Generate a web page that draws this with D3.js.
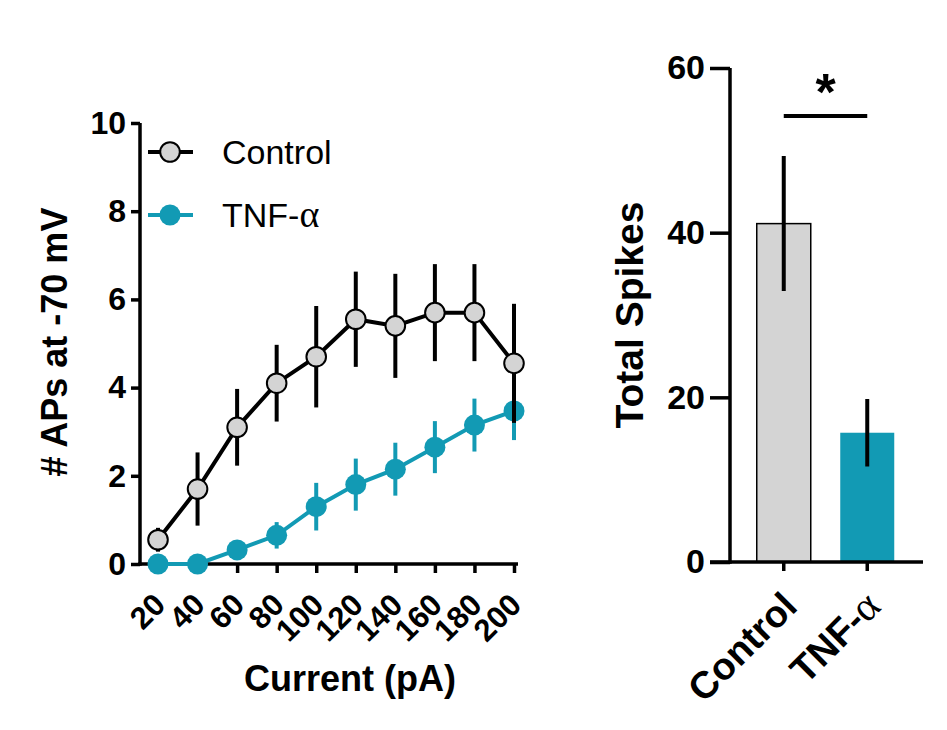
<!DOCTYPE html>
<html>
<head>
<meta charset="utf-8">
<script src="https://cdn.jsdelivr.net/npm/d3@7"></script>
<style>
  body { margin: 0; background: #fff; }
  text { font-family: "Liberation Sans", Arial, sans-serif; }
</style>
</head>
<body>
<svg width="947" height="730"></svg>
<script>
// data
var currents = [20, 40, 60, 80, 100, 120, 140, 160, 180, 200];
var controlMean = [0.55, 1.7, 3.1, 4.1, 4.7, 5.55, 5.4, 5.7, 5.7, 4.55];
var controlSem = [0.27, 0.83, 0.87, 0.87, 1.15, 1.08, 1.18, 1.1, 1.1, 1.35];
var tnfMean = [0, 0, 0.32, 0.65, 1.3, 1.8, 2.15, 2.65, 3.15, 3.47];
var tnfSem = [0, 0, 0.1, 0.3, 0.54, 0.59, 0.6, 0.59, 0.6, 0.66];
var yTicksLeft = [0, 2, 4, 6, 8, 10];

var groups = ["Control", "TNF-α"];
var totals = [41.1, 15.7];
var totalsSem = [8.2, 4.1];
var yTicksRight = [0, 20, 40, 60];

var grey = "#d4d4d4", teal = "#129ab4";

var svg = d3.select("svg");

// ---------- left: line chart ----------
var x = d3.scalePoint().domain(currents).range([158, 514]);
var y = d3.scaleLinear().domain([0, 10]).range([564, 123]);

var gl = svg.append("g");

// axes
var yAxis = gl.append("g")
  .attr("transform", "translate(140,0)")
  .call(d3.axisLeft(y).tickValues(yTicksLeft).tickSize(9).tickPadding(5));
var xAxis = gl.append("g")
  .attr("transform", "translate(0,564)")
  .call(d3.axisBottom(x).tickSize(9).tickPadding(4));

[yAxis, xAxis].forEach(function (a) {
  a.select(".domain").attr("stroke", "#000").attr("stroke-width", 3.5);
  a.selectAll(".tick line").attr("stroke", "#000").attr("stroke-width", 3.5);
});
// extend x domain line to meet y axis and past last point
xAxis.select(".domain").attr("d", "M138.25,0H518");
yAxis.select(".domain").attr("d", "M0,123V565.75");

yAxis.selectAll(".tick text")
  .attr("font-size", 32).attr("font-weight", "bold").attr("fill", "#000");
xAxis.selectAll(".tick text")
  .attr("font-size", 31).attr("font-weight", "bold").attr("fill", "#000")
  .attr("text-anchor", "end")
  .attr("transform", "translate(1,35) rotate(-45)")
  .attr("dy", "0.35em").attr("y", 0);

gl.append("text")
  .attr("transform", "translate(67,342) rotate(-90)")
  .attr("text-anchor", "middle")
  .attr("font-size", 36).attr("font-weight", "bold")
  .text("# APs at -70 mV");

gl.append("text")
  .attr("x", 350).attr("y", 691)
  .attr("text-anchor", "middle")
  .attr("font-size", 36).attr("font-weight", "bold")
  .text("Current (pA)");

function drawSeries(mean, sem, stroke, fill, lineColor) {
  var pts = currents.map(function (c, i) { return { c: c, m: mean[i], s: sem[i] }; });
  var g = gl.append("g");
  g.selectAll("line.err").data(pts).enter().append("line")
    .attr("x1", function (d) { return x(d.c); })
    .attr("x2", function (d) { return x(d.c); })
    .attr("y1", function (d) { return y(Math.max(0, d.m - d.s)); })
    .attr("y2", function (d) { return y(d.m + d.s); })
    .attr("stroke", lineColor).attr("stroke-width", 4);
  g.append("path").datum(pts)
    .attr("fill", "none").attr("stroke", lineColor).attr("stroke-width", 4)
    .attr("d", d3.line().x(function (d) { return x(d.c); }).y(function (d) { return y(d.m); }));
  g.selectAll("circle").data(pts).enter().append("circle")
    .attr("cx", function (d) { return x(d.c); })
    .attr("cy", function (d) { return y(d.m); })
    .attr("r", stroke === "none" ? 10.5 : 9.8)
    .attr("fill", fill)
    .attr("stroke", stroke).attr("stroke-width", stroke === "none" ? 0 : 2);
}
drawSeries(tnfMean, tnfSem, "none", teal, teal);
drawSeries(controlMean, controlSem, "#000", grey, "#000");

// legend
var legend = [
  { name: "Control", fill: grey, stroke: "#000", line: "#000", y: 152 },
  { name: "TNF-", fill: teal, stroke: "none", line: teal, y: 215 }
];
var lg = gl.selectAll("g.leg").data(legend).enter().append("g");
lg.append("line")
  .attr("x1", 148).attr("x2", 193)
  .attr("y1", function (d) { return d.y; }).attr("y2", function (d) { return d.y; })
  .attr("stroke", function (d) { return d.line; }).attr("stroke-width", 4);
lg.append("circle")
  .attr("cx", 170).attr("cy", function (d) { return d.y; })
  .attr("r", function (d) { return d.stroke === "none" ? 10.5 : 9.8; })
  .attr("fill", function (d) { return d.fill; })
  .attr("stroke", function (d) { return d.stroke; }).attr("stroke-width", 2);
var lt = lg.append("text")
  .attr("x", 222).attr("y", function (d) { return d.y + 12; })
  .attr("font-size", 34)
  .text(function (d) { return d.name; });
lt.filter(function (d) { return d.name === "TNF-"; })
  .append("tspan").attr("font-family", "Liberation Serif, serif").attr("font-size", 38).text("α");

// ---------- right: bar chart ----------
var xb = d3.scaleBand().domain(groups).range([742, 909]).padding(0);
var yb = d3.scaleLinear().domain([0, 60]).range([562, 68]);
var gr = svg.append("g");

var barW = 54;
gr.selectAll("rect").data(groups).enter().append("rect")
  .attr("x", function (d) { return xb(d) + xb.bandwidth() / 2 - barW / 2; })
  .attr("width", barW)
  .attr("y", function (d, i) { return yb(totals[i]); })
  .attr("height", function (d, i) { return yb(0) - yb(totals[i]); })
  .attr("fill", function (d, i) { return i === 0 ? grey : teal; })
  .attr("stroke", function (d, i) { return i === 0 ? "#000" : "none"; })
  .attr("stroke-width", 1.5);

gr.selectAll("line.err").data(groups).enter().append("line")
  .attr("x1", function (d) { return xb(d) + xb.bandwidth() / 2; })
  .attr("x2", function (d) { return xb(d) + xb.bandwidth() / 2; })
  .attr("y1", function (d, i) { return yb(totals[i] - totalsSem[i]); })
  .attr("y2", function (d, i) { return yb(totals[i] + totalsSem[i]); })
  .attr("stroke", "#000").attr("stroke-width", 4);

var ybAxis = gr.append("g")
  .attr("transform", "translate(730,0)")
  .call(d3.axisLeft(yb).tickValues(yTicksRight).tickSize(20).tickPadding(5));
var xbAxis = gr.append("g")
  .attr("transform", "translate(0,562)")
  .call(d3.axisBottom(xb).tickSize(9).tickPadding(4));
[ybAxis, xbAxis].forEach(function (a) {
  a.select(".domain").attr("stroke", "#000").attr("stroke-width", 3.5);
  a.selectAll(".tick line").attr("stroke", "#000").attr("stroke-width", 3.5);
});
ybAxis.select(".domain").attr("d", "M0,68V563.75");
xbAxis.select(".domain").attr("d", "M710,0H923");
ybAxis.selectAll(".tick text")
  .attr("font-size", 34).attr("font-weight", "bold").attr("fill", "#000");
xbAxis.selectAll(".tick text")
  .attr("font-size", 38).attr("font-weight", "bold").attr("fill", "#000")
  .attr("text-anchor", "end")
  .attr("transform", "translate(6,37) rotate(-45)")
  .attr("dy", "0.35em").attr("y", 0)
  .text(function (d) { return d === "TNF-α" ? "TNF-" : d; })
  .filter(function (d) { return d === "TNF-α"; })
  .append("tspan").attr("font-family", "Liberation Serif, serif").attr("font-weight", "normal").attr("font-size", 42).text("α");

gr.append("text")
  .attr("transform", "translate(643,315) rotate(-90)")
  .attr("text-anchor", "middle")
  .attr("font-size", 39).attr("font-weight", "bold")
  .text("Total Spikes");

// significance
var c0 = xb(groups[0]) + xb.bandwidth() / 2, c1 = xb(groups[1]) + xb.bandwidth() / 2;
gr.append("line")
  .attr("x1", c0).attr("x2", c1).attr("y1", 116).attr("y2", 116)
  .attr("stroke", "#000").attr("stroke-width", 4);
gr.append("text")
  .attr("x", (c0 + c1) / 2).attr("y", 110)
  .attr("text-anchor", "middle")
  .attr("font-size", 52).attr("font-weight", "bold")
  .text("*");
</script>
</body>
</html>
